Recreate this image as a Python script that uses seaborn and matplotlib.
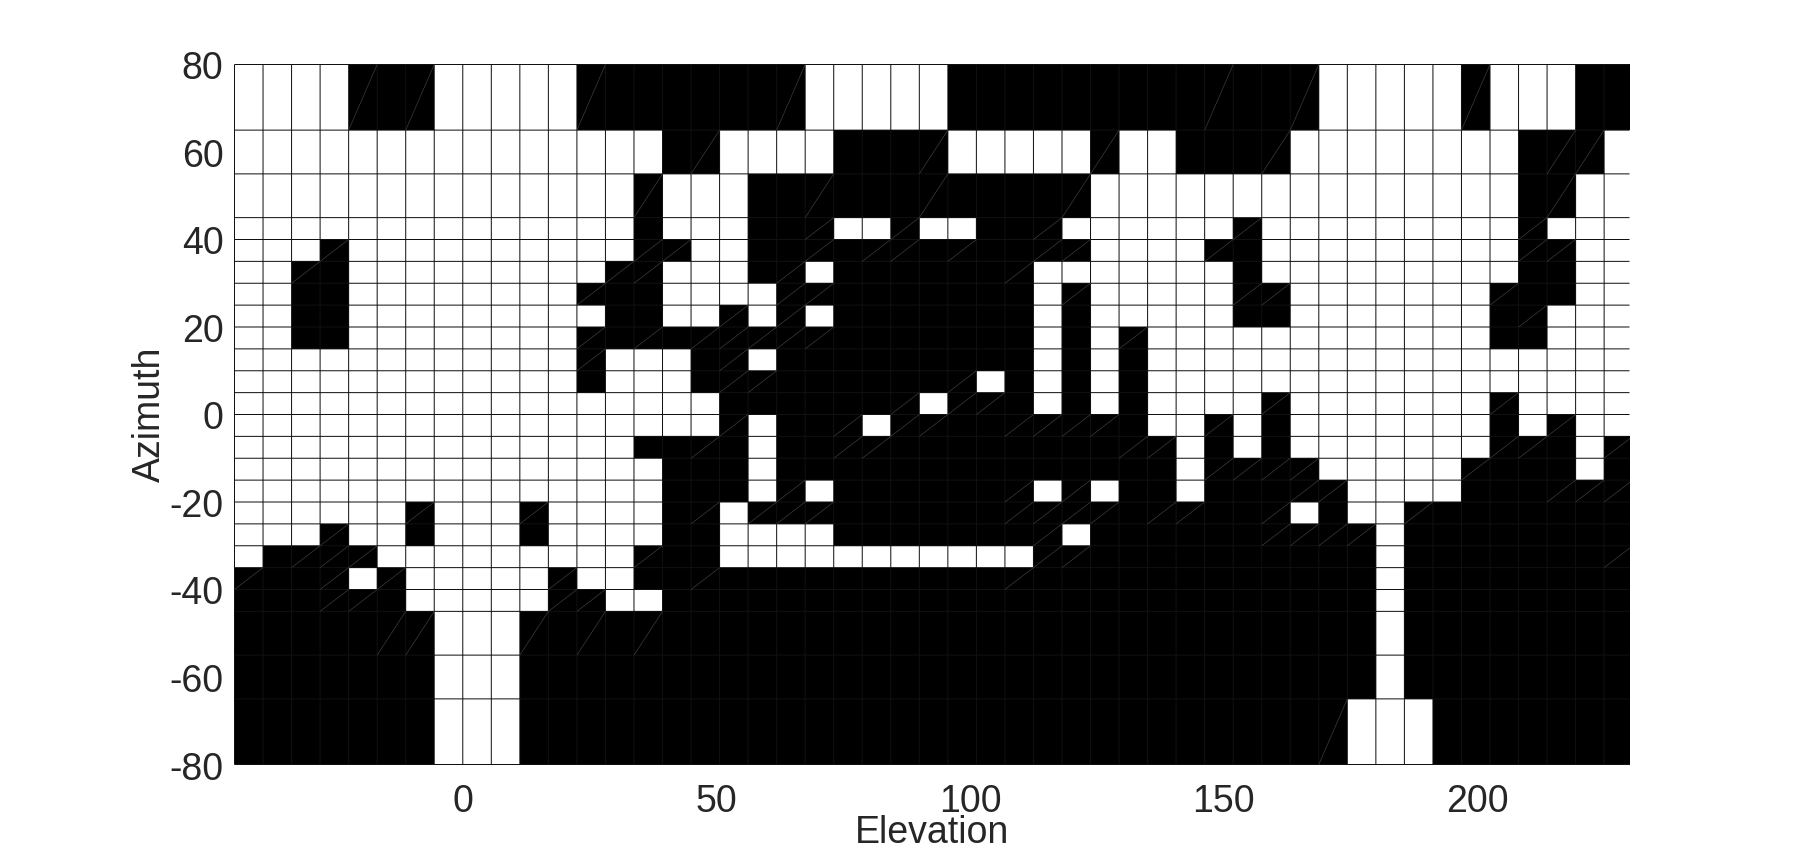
import numpy as np
import pandas as pd
import seaborn as sns
import matplotlib.pyplot as plt
from matplotlib.transforms import ScaledTranslation

# cell edges of the measurement grid
elevation = [-45 + 5.625 * i for i in range(50)]
azimuth = [80, 65, 55, 45, 40, 35, 30, 25, 20, 15, 10, 5, 0, -5, -10, -15, -20, -25, -30, -35, -40, -45, -55, -65, -80]
x_ticks = [0, 50, 100, 150, 200]
y_ticks = [80, 60, 40, 20, 0, -20, -40, -60, -80]

# white cells per row, top row first, as (first column, last column)
white_runs = [
    [(0, 3), (7, 11), (20, 24), (38, 42), (44, 46)],
    [(0, 14), (17, 20), (25, 29), (31, 32), (37, 44), (48, 48)],
    [(0, 13), (15, 17), (30, 44), (47, 48)],
    [(0, 13), (15, 17), (21, 22), (24, 25), (29, 34), (36, 44), (46, 48)],
    [(0, 2), (4, 13), (16, 17), (30, 33), (36, 44), (47, 48)],
    [(0, 1), (4, 12), (15, 17), (20, 20), (28, 34), (36, 44), (47, 48)],
    [(0, 1), (4, 11), (15, 18), (28, 28), (30, 34), (37, 43), (47, 48)],
    [(0, 1), (4, 12), (15, 16), (18, 18), (20, 20), (28, 28), (30, 34), (37, 43), (46, 48)],
    [(0, 1), (4, 11), (28, 28), (30, 30), (32, 43), (46, 48)],
    [(0, 11), (13, 15), (18, 18), (28, 28), (30, 30), (32, 48)],
    [(0, 11), (13, 15), (26, 26), (28, 28), (30, 30), (32, 48)],
    [(0, 16), (24, 24), (28, 28), (30, 30), (32, 35), (37, 43), (45, 48)],
    [(0, 16), (18, 18), (22, 22), (32, 33), (35, 35), (37, 43), (45, 45), (47, 48)],
    [(0, 13), (18, 18), (33, 33), (35, 35), (37, 43), (47, 47)],
    [(0, 14), (18, 18), (33, 33), (38, 42), (47, 47)],
    [(0, 14), (18, 18), (20, 20), (28, 28), (30, 30), (33, 33), (39, 42)],
    [(0, 5), (7, 9), (11, 14), (17, 17), (37, 37), (39, 40)],
    [(0, 2), (4, 5), (7, 9), (11, 14), (17, 20), (29, 29), (40, 40)],
    [(0, 0), (5, 13), (17, 27), (40, 40)],
    [(4, 4), (6, 10), (12, 13), (40, 40)],
    [(6, 10), (13, 14), (40, 40)],
    [(7, 9), (40, 40)],
    [(7, 9), (40, 40)],
    [(7, 9), (39, 41)],
]

# black cells that show the thin grey diagonal, per row
diagonals = [
    [4, 6, 12, 19, 34, 37, 43],
    [16, 24, 30, 36, 46, 47],
    [14, 20, 24, 29, 46],
    [20, 23, 28, 35, 45],
    [3, 14, 15, 20, 22, 23, 25, 28, 29, 34, 45, 46],
    [2, 13, 14, 19, 27],
    [12, 19, 20, 29, 35, 36, 44],
    [17, 19, 45],
    [12, 14, 16, 17, 18, 19, 20, 31],
    [12, 17],
    [17, 18, 25],
    [23, 25, 26, 36, 44],
    [17, 21, 23, 24, 27, 28, 29, 30, 34, 46],
    [16, 21, 22, 31, 32, 44, 45, 48],
    [34, 35, 36, 37, 43],
    [19, 27, 29, 37, 38, 46, 47, 48],
    [6, 10, 16, 18, 19, 20, 27, 28, 29, 30, 32, 33, 36, 41],
    [3, 28, 36, 37, 38, 39],
    [2, 3, 4, 14, 28, 29, 48],
    [0, 3, 5, 11, 16, 27],
    [3, 4, 11, 12],
    [5, 6, 10, 12, 14],
    [],
    [38],
]

sns.set_theme(style='white')
plt.rcParams['font.family'] = ['Liberation Sans', 'DejaVu Sans']
text_color = '#262626'

grid = np.zeros((len(white_runs), len(elevation) - 1))
for row, runs in enumerate(white_runs):
    for first, last in runs:
        grid[row, first:last + 1] = 1

# the rows are not evenly spaced, so each one is repeated by its height in 5 degree steps
spans = (-np.diff(azimuth) / 5).astype(int)
df = pd.DataFrame(np.repeat(grid, spans, axis=0))

def az_pos(a):
    return (80 - np.asarray(a)) / 5

def el_pos(e):
    return (np.asarray(e) + 45) / 5.625

fig = plt.figure(figsize=(18, 8.59), dpi=100)
ax = fig.add_axes([234.5 / 1800, 1 - 764.5 / 859, 1395 / 1800, 700 / 859])
sns.heatmap(df, cmap=['black', 'white'], vmin=0, vmax=1, cbar=False, ax=ax,
            xticklabels=False, yticklabels=False, rasterized=True)

# snap off so the lines fall between pixels the way they do in the original
ax.vlines(el_pos(elevation[:-1]), az_pos(80), az_pos(-80), color='#111111', lw=0.72, snap=False, clip_on=False)
ax.hlines(az_pos(azimuth), 0, el_pos(230), color='#111111', lw=0.72, snap=False, clip_on=False)

for row, cols in enumerate(diagonals):
    for col in cols:
        ax.plot([col, col + 1], [az_pos(azimuth[row + 1]), az_pos(azimuth[row])],
                color='#3c3c3c', lw=0.5, solid_capstyle='butt')

ax.set_xlim(0, el_pos(230))
ax.set_ylim(az_pos(-80), az_pos(80))
ax.set_xticks(el_pos(x_ticks))
ax.set_xticklabels(x_ticks)
ax.set_yticks(az_pos(y_ticks))
ax.set_yticklabels(y_ticks)
ax.tick_params(axis='x', length=0, labelsize=27, labelcolor=text_color, pad=14)
ax.tick_params(axis='y', length=0, labelsize=27, labelcolor=text_color, pad=8)
# y labels sit a pixel low in the original
for label in ax.get_yticklabels():
    label.set_transform(label.get_transform() + ScaledTranslation(0, -1 / 100, fig.dpi_scale_trans))
ax.set_xlabel('Elevation', fontsize=27, color=text_color, labelpad=-3.5)
ax.set_ylabel('Azimuth', fontsize=27, color=text_color, labelpad=1)
for side in ax.spines.values():
    side.set_visible(False)

fig.savefig('out.png', dpi=100)
